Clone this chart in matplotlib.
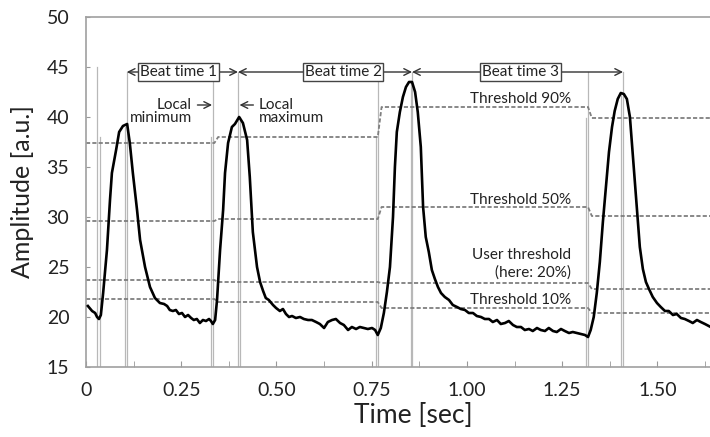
# Beat detection on a calcium transient: signal, thresholds, beat times

import matplotlib
matplotlib.use('Agg')
from matplotlib import pyplot as plt
from matplotlib.ticker import MultipleLocator, FixedLocator, FixedFormatter

plt.rcParams['font.family'] = ['Lato', 'DejaVu Sans']

# signal (time in sec, amplitude in a.u.)
time = [0.005, 0.016, 0.024, 0.029, 0.034, 0.039, 0.045, 0.055, 0.063, 0.068,
        0.079, 0.087, 0.097, 0.108, 0.115, 0.123, 0.134, 0.142, 0.155, 0.168,
        0.181, 0.194, 0.205, 0.213, 0.220, 0.228, 0.236, 0.244, 0.252, 0.260,
        0.268, 0.276, 0.283, 0.291, 0.299, 0.307, 0.315, 0.323, 0.328, 0.333,
        0.339, 0.344, 0.352, 0.360, 0.365, 0.373, 0.383, 0.391, 0.402, 0.412,
        0.423, 0.430, 0.438, 0.449, 0.457, 0.465, 0.472, 0.480, 0.491, 0.499,
        0.509, 0.517, 0.525, 0.533, 0.541, 0.551, 0.562, 0.572, 0.583, 0.593,
        0.604, 0.614, 0.625, 0.635, 0.646, 0.656, 0.667, 0.677, 0.688, 0.698,
        0.709, 0.719, 0.730, 0.740, 0.751, 0.759, 0.766,
        0.774, 0.782, 0.790, 0.798, 0.806, 0.811, 0.816, 0.824, 0.832, 0.840,
        0.848, 0.856, 0.864, 0.871, 0.879, 0.885, 0.892, 0.900, 0.908, 0.916,
        0.924, 0.932, 0.942, 0.953, 0.963, 0.974, 0.984, 0.995, 1.005, 1.016,
        1.026, 1.037, 1.047, 1.058, 1.068, 1.079, 1.089, 1.100, 1.110, 1.121,
        1.131, 1.142, 1.152, 1.163, 1.173, 1.184, 1.194, 1.205, 1.215, 1.226,
        1.236, 1.247, 1.257, 1.268, 1.278, 1.289, 1.299, 1.310, 1.318,
        1.325, 1.333, 1.341, 1.349, 1.357, 1.365, 1.373, 1.381, 1.388, 1.396,
        1.404, 1.412, 1.420, 1.428, 1.433, 1.438, 1.444, 1.449, 1.454, 1.462,
        1.470, 1.478, 1.488, 1.499, 1.509, 1.520, 1.530, 1.541, 1.551, 1.562,
        1.572, 1.583, 1.593, 1.604, 1.614, 1.625, 1.640, 1.660, 1.690, 1.717]
amp = [21.1, 20.6, 20.4, 20.0, 19.8, 20.2, 22.4, 26.7, 31.7, 34.4,
       36.7, 38.5, 39.1, 39.3, 37.4, 34.4, 30.7, 27.7, 25.0, 23.0,
       21.9, 21.4, 21.3, 21.1, 20.7, 20.6, 20.7, 20.3, 20.4, 20.0,
       20.2, 19.9, 19.7, 19.8, 19.4, 19.7, 19.6, 19.8, 19.6, 19.3,
       19.7, 21.7, 26.7, 30.7, 34.4, 37.4, 39.0, 39.3, 40.0, 39.4,
       37.7, 34.0, 28.5, 25.0, 23.5, 22.6, 21.9, 21.7, 21.2, 20.9,
       20.6, 20.8, 20.3, 20.0, 20.1, 19.9, 20.0, 19.8, 19.7, 19.7,
       19.5, 19.3, 18.9, 19.5, 19.7, 19.8, 19.4, 19.2, 18.7, 19.0,
       18.8, 19.0, 18.9, 18.8, 18.9, 18.7, 18.2,
       18.9, 20.4, 22.5, 25.0, 30.0, 35.0, 38.5, 40.5, 42.0, 43.0,
       43.5, 43.5, 42.5, 40.5, 37.0, 31.0, 28.0, 26.5, 24.7, 23.8,
       23.0, 22.4, 22.0, 21.7, 21.2, 21.0, 20.8, 20.7, 20.4, 20.4,
       20.1, 20.0, 19.8, 19.8, 19.5, 19.7, 19.3, 19.4, 19.6, 19.2,
       19.0, 19.0, 18.7, 18.8, 18.6, 18.9, 18.7, 18.6, 18.9, 18.6,
       18.5, 18.8, 18.6, 18.4, 18.5, 18.4, 18.3, 18.2, 18.0,
       18.7, 20.0, 22.4, 25.5, 29.5, 33.0, 36.5, 39.0, 40.6, 41.8,
       42.4, 42.3, 41.8, 40.0, 37.5, 35.0, 32.0, 29.5, 27.0, 24.8,
       23.5, 22.8, 22.0, 21.4, 21.0, 20.6, 20.6, 20.2, 20.3, 19.9,
       19.8, 19.6, 19.4, 19.7, 19.5, 19.3, 19.0, 18.9, 18.8, 18.7]

# threshold levels per beat segment
seg_edges = [0.0, 0.337, 0.766, 1.318, 1.717]
th_90 = [37.4, 38.0, 41.0, 39.9]
th_50 = [29.6, 29.8, 31.0, 30.1]
th_user = [23.7, 23.5, 23.4, 22.8]
th_10 = [21.8, 21.5, 20.9, 20.4]

# detected events: (long marker, short marker, top of long marker, top of short marker)
event_pairs = [(0.030, 0.038, 45.0, 38.0), (0.107, 0.102, 44.5, 39.0),
               (0.334, 0.328, 43.8, 38.0), (0.399, 0.404, 44.5, 40.0),
               (0.766, 0.761, 44.5, 38.0), (0.856, 0.853, 44.5, 43.5),
               (1.318, 1.312, 44.5, 39.9), (1.410, 1.404, 44.5, 42.4)]
beat_bounds = [0.107, 0.399, 0.856, 1.410]
beat_labels = ['Beat time 1', 'Beat time 2', 'Beat time 3']
beat_label_x = [0.242, 0.675, 1.140]


def step_line(levels, edges, ramp=0.01):
    xs, ys = [], []
    for i, lv in enumerate(levels):
        x0 = edges[i] + (ramp if i > 0 else 0)
        xs += [x0, edges[i + 1]]
        ys += [lv, lv]
    return xs, ys


fig = plt.figure(figsize=(7.1, 4.37), dpi=100)
ax = fig.add_axes([86 / 710, 70 / 437, 654 / 710, 350 / 437])

grey = '#b8b8b8'
# event marker lines
for a, b, top_a, top_b in event_pairs:
    ax.plot([a, a], [15, top_a], color=grey, lw=0.9, zorder=1)
    ax.plot([b, b], [15, top_b], color=grey, lw=0.9, zorder=1)

# thresholds
for lv in (th_90, th_50, th_user, th_10):
    xs, ys = step_line(lv, seg_edges)
    ax.plot(xs, ys, color='#7f7f7f', lw=1.3, ls=(0, (2.3, 1.2)), zorder=2)

# signal
ax.plot(time, amp, color='black', lw=1.9, zorder=3)

# beat time arrows
for i, lab in enumerate(beat_labels):
    ax.annotate('', xy=(beat_bounds[i + 1], 44.5), xytext=(beat_bounds[i], 44.5),
                arrowprops=dict(arrowstyle='<->', color='#333333', lw=1.0,
                                shrinkA=0, shrinkB=0, mutation_scale=12))
    ax.text(beat_label_x[i], 44.5, lab, ha='center', va='center', fontsize=11,
            color='#222222',
            bbox=dict(boxstyle='square,pad=0.12', fc='white', ec='#444444', lw=1.0))

# local min / max labels
ax.annotate('Local', xy=(0.331, 41.2), xytext=(0.278, 41.2), ha='right', va='center',
            fontsize=11, color='#222222',
            arrowprops=dict(arrowstyle='->', color='#333333', lw=1.0,
                            shrinkA=2, shrinkB=0, mutation_scale=12))
ax.text(0.278, 39.9, 'minimum', ha='right', va='center', fontsize=11, color='#222222')
ax.annotate('Local', xy=(0.403, 41.2), xytext=(0.454, 41.2), ha='left', va='center',
            fontsize=11, color='#222222',
            arrowprops=dict(arrowstyle='->', color='#333333', lw=1.0,
                            shrinkA=2, shrinkB=0, mutation_scale=12))
ax.text(0.454, 39.9, 'maximum', ha='left', va='center', fontsize=11, color='#222222')

# threshold labels
tx = 1.273
ax.text(tx, 41.8, 'Threshold 90%', ha='right', va='center', fontsize=11, color='#222222')
ax.text(tx, 31.7, 'Threshold 50%', ha='right', va='center', fontsize=11, color='#222222')
ax.text(tx, 26.2, 'User threshold', ha='right', va='center', fontsize=11, color='#222222')
ax.text(tx, 24.4, '(here: 20%)', ha='right', va='center', fontsize=11, color='#222222')
ax.text(tx, 21.7, 'Threshold 10%', ha='right', va='center', fontsize=11, color='#222222')

ax.set_xlim(0, 1.717)
ax.set_ylim(15, 50)
ax.xaxis.set_major_locator(FixedLocator([0, 0.25, 0.5, 0.75, 1.0, 1.25, 1.5]))
ax.xaxis.set_major_formatter(FixedFormatter(['0', '0.25', '0.50', '0.75', '1.00', '1.25', '1.50']))
ax.xaxis.set_minor_locator(MultipleLocator(0.125))
ax.yaxis.set_major_locator(MultipleLocator(5))
ax.tick_params(axis='both', which='both', direction='in', color='#999999', labelsize=14,
               labelcolor='#222222')
ax.tick_params(axis='x', which='both', length=4, pad=11)
ax.tick_params(axis='y', length=3, pad=12)
for s in ('left', 'bottom', 'top'):
    ax.spines[s].set_color('#a0a0a0')
    ax.spines[s].set_linewidth(1.2)
ax.spines['right'].set_visible(False)

ax.set_xlabel('Time [sec]', fontsize=19, color='#222222', labelpad=3)
ax.set_ylabel('Amplitude [a.u.]', fontsize=18, color='#222222', labelpad=9)

plt.savefig('out.png', dpi=100)
